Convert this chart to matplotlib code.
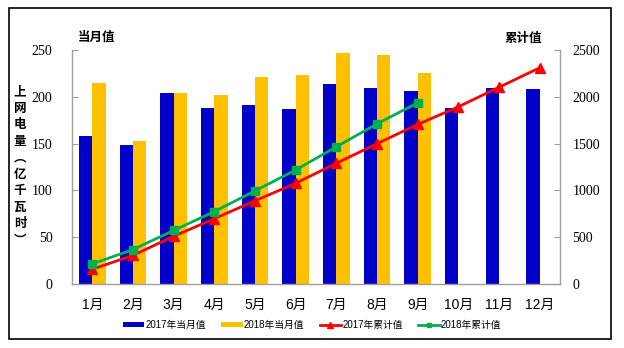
import matplotlib
matplotlib.use("Agg")
import matplotlib.pyplot as plt
from matplotlib.patches import Rectangle
import numpy as np

months = ["1月", "2月", "3月", "4月", "5月", "6月", "7月", "8月", "9月", "10月", "11月", "12月"]
monthly_2017 = [158, 148, 204, 188, 191, 187, 214, 209, 206, 188, 209, 208]
monthly_2018 = [215, 153, 204, 202, 221, 223, 247, 245, 225]
cum_2017 = [158, 306, 510, 698, 889, 1076, 1290, 1499, 1705, 1893, 2102, 2310]
cum_2018 = [215, 368, 572, 774, 995, 1218, 1466, 1711, 1936]
left_ticks = [0, 50, 100, 150, 200, 250]
right_ticks = [0, 500, 1000, 1500, 2000, 2500]

BLUE = "#0000C8"
ORANGE = "#FFC000"
RED = "#FF0000"
GREEN = "#00B050"
GRAY = "#A0A0A0"

plt.rcParams['font.family'] = ['Liberation Serif', 'Noto Sans CJK SC', 'DejaVu Sans']

fig = plt.figure(figsize=(6.24, 3.48), dpi=100)
ax = fig.add_axes([72/624, 1-284/348, (560-72)/624, (284-50)/348])
ax2 = ax.twinx()

x = np.arange(len(months))
w = 0.33
b1 = ax.bar(x - w/2, monthly_2017, width=w, color=BLUE, label="2017年当月值", zorder=2)
b2 = ax.bar(x[:len(monthly_2018)] + w/2, monthly_2018, width=w, color=ORANGE, label="2018年当月值", zorder=2)

l1, = ax2.plot(x, cum_2017, color=RED, lw=2.0, marker="^", ms=6.5, label="2017年累计值")
l2, = ax2.plot(x[:len(cum_2018)], cum_2018, color=GREEN, lw=2.0, marker="s", ms=5.5, label="2018年累计值")

ax.set_xlim(-0.5, 11.5)
ax.set_ylim(0, 250)
ax2.set_ylim(0, 2500)
ax.set_yticks(left_ticks)
ax2.set_yticks(right_ticks)
ax.set_xticks(x)
ax.set_xticklabels(months, family=['Liberation Sans', 'Noto Sans CJK SC'], fontsize=10)

for a in (ax, ax2):
    for s in a.spines.values():
        s.set_color(GRAY)
        s.set_linewidth(1)
    a.spines['top'].set_visible(False)
ax.spines['right'].set_visible(False)
ax2.spines['left'].set_visible(False)
ax2.spines['bottom'].set_visible(False)

ax.tick_params(axis='y', direction='in', length=4, color=GRAY, pad=14, labelsize=10)
ax2.tick_params(axis='y', direction='in', length=4, color=GRAY, pad=9, labelsize=10)
ax.tick_params(axis='x', length=0, pad=10)

# Vertical y label
ylab = "\n".join(list("上网电量︵亿千瓦时︶"))
fig.text(20/624, 1-166/348, ylab, ha='center', va='center', fontsize=9,
         family=['Noto Sans CJK SC'], fontweight='bold', linespacing=1.35)

fig.text(96/624, 1-37/348, "当月值", ha='center', va='center', fontsize=9,
         family=['Noto Sans CJK SC'], fontweight='bold')
fig.text(523/624, 1-38/348, "累计值", ha='center', va='center', fontsize=9,
         family=['Noto Sans CJK SC'], fontweight='bold')

leg = fig.legend(handles=[b1, b2, l1, l2], loc='center', bbox_to_anchor=(312/624, 1-325/348),
                 ncol=4, frameon=False,
                 prop={'family': ['Liberation Sans', 'Noto Sans CJK SC'], 'size': 7},
                 handlelength=2.2, handleheight=0.5, columnspacing=1.6, handletextpad=0.1,
                 markerscale=0.6)

fig.patches.append(Rectangle((9/624, 1-339/348), (611-9)/624, (339-8)/348,
                             transform=fig.transFigure, fill=False, edgecolor='black', lw=1.2))

fig.savefig("out.png", dpi=100)
